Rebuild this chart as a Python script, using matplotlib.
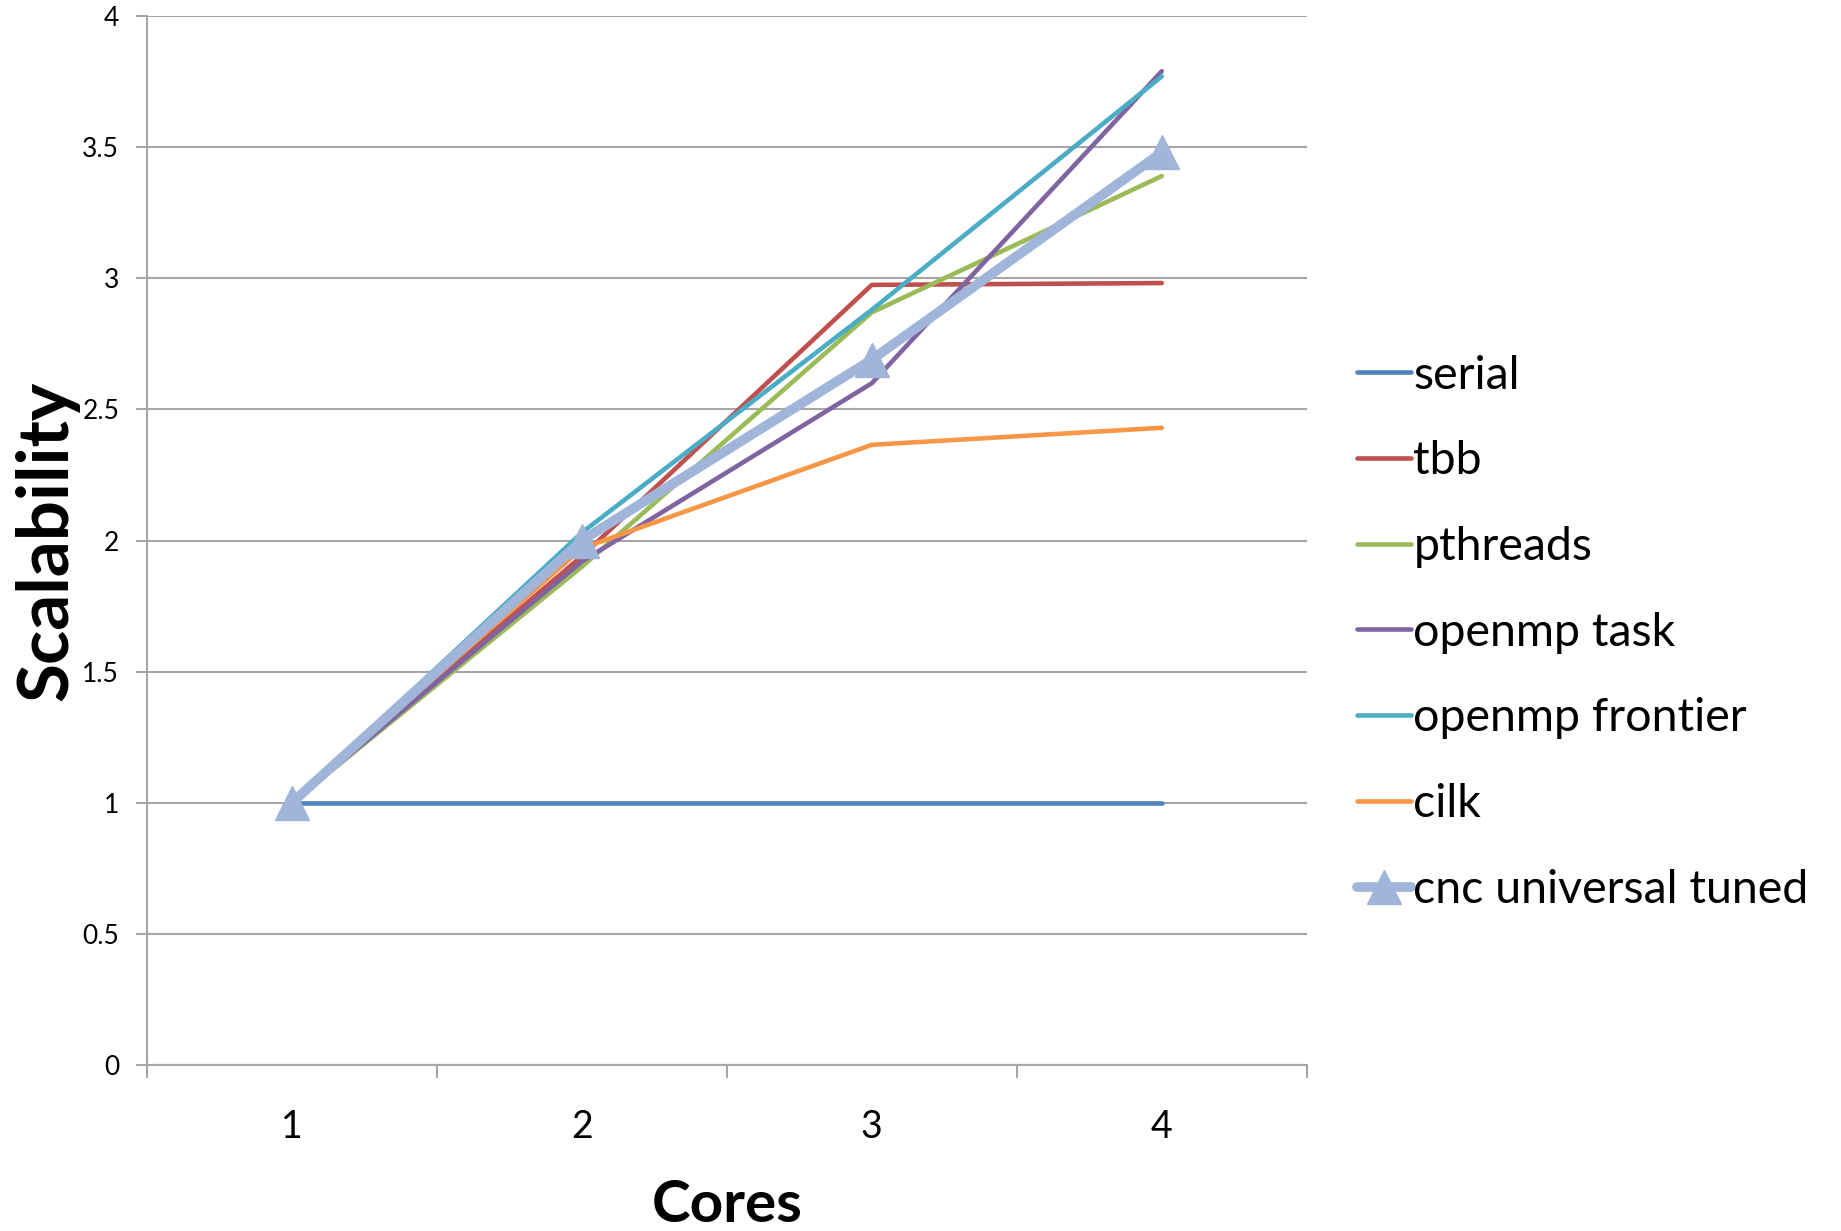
import numpy as np
import matplotlib
matplotlib.use("Agg")
from matplotlib import pyplot as plt

plt.rcParams["font.family"] = ["Lato", "DejaVu Sans"]

#########################################
### Data
#########################################
cores = [1, 2, 3, 4]
serial = [1.0, 1.0, 1.0, 1.0]
tbb = [1.0, 1.94, 2.975, 2.982]
pthreads = [1.0, 1.90, 2.87, 3.39]
openmp_task = [1.0, 1.92, 2.60, 3.79]
openmp_frontier = [1.0, 2.03, 2.88, 3.77]
cilk = [1.0, 1.97, 2.365, 2.43]
cnc_tuned = [1.0, 2.0, 2.69, 3.48]

y_ticks = [0, 0.5, 1, 1.5, 2, 2.5, 3, 3.5, 4]
y_tick_labels = ["0", "0.5", "1", "1.5", "2", "2.5", "3", "3.5", "4"]

grid_col = "#A6A6A6"

fig = plt.figure(figsize=(18.41, 12.31), dpi=100)
ax = fig.add_axes([0.0798, 0.1349, 0.630, 0.852])

lw = 3.3
ax.plot(cores, serial, color="#4F81BD", lw=lw, solid_capstyle="round", label="serial")
ax.plot(cores, tbb, color="#C0504D", lw=lw, solid_capstyle="round", label="tbb")
ax.plot(cores, pthreads, color="#9BBB59", lw=lw, solid_capstyle="round", label="pthreads")
ax.plot(cores, openmp_task, color="#8064A2", lw=lw, solid_capstyle="round", label="openmp task")
ax.plot(cores, openmp_frontier, color="#4BACC6", lw=lw, solid_capstyle="round", label="openmp frontier")
ax.plot(cores, cilk, color="#F79646", lw=lw, solid_capstyle="round", label="cilk")
ax.plot(cores, cnc_tuned, color="#A0B5D9", lw=7, marker="^", markersize=24,
        solid_capstyle="round", label="cnc universal tuned")

# axes look (Excel style)
ax.set_xlim(0.5, 4.5)
ax.set_ylim(0, 4)
ax.set_yticks(y_ticks)
ax.set_yticklabels(y_tick_labels, fontsize=19)
ax.yaxis.grid(True, color=grid_col, lw=1.5)
ax.set_axisbelow(True)
for s in ["top", "right"]:
    ax.spines[s].set_visible(False)
ax.spines["left"].set_color(grid_col)
ax.spines["left"].set_linewidth(1.5)
ax.spines["bottom"].set_color(grid_col)
ax.spines["bottom"].set_linewidth(1.5)
ax.tick_params(axis="y", direction="out", length=8, width=1.5, color=grid_col, pad=12)

ax.set_xticks([0.5, 1.5, 2.5, 3.5, 4.5])
ax.set_xticklabels([])
ax.set_xticks(cores, minor=True)
ax.set_xticklabels([str(c) for c in cores], minor=True, fontsize=27)
ax.tick_params(axis="x", which="major", direction="out", length=9, width=1.5, color=grid_col)
ax.tick_params(axis="x", which="minor", length=0, pad=32)

ax.set_xlabel("Cores", fontsize=42, fontweight="bold", labelpad=24)
ax.set_ylabel("Scalability", fontsize=51, fontweight="bold", labelpad=2)

fig.legend(loc="center left", bbox_to_anchor=(0.727, 0.486), frameon=False,
           fontsize=33.5, handlelength=1.15, handletextpad=0.06, labelspacing=0.94,
           borderaxespad=0)

fig.savefig("out.png", dpi=100)
